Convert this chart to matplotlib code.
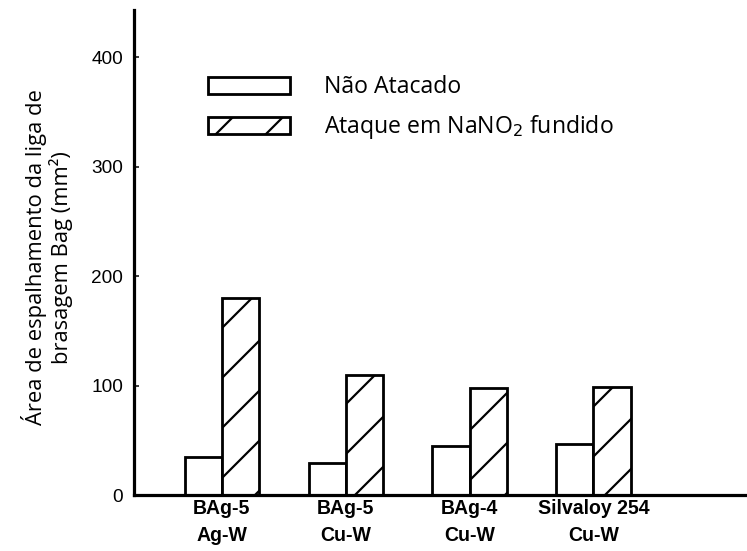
import numpy as np
import matplotlib.pyplot as plt
from matplotlib import font_manager

# dados
categorias = ['BAg-5\nAg-W', 'BAg-5\nCu-W', 'BAg-4\nCu-W', 'Silvaloy 254\nCu-W']
nao_atacado = [35, 29, 45, 47]
ataque_nano2 = [180, 110, 98, 99]
yticks = [0, 100, 200, 300, 400]

# fontes disponíveis
nomes = {f.name for f in font_manager.fontManager.ttflist}
estreita = 'Liberation Sans Narrow' if 'Liberation Sans Narrow' in nomes else 'Liberation Sans'
texto = 'Open Sans' if 'Open Sans' in nomes else 'DejaVu Sans'

# dpi 150 para a hachura ficar espaçada como no original
DPI = 150
P = 72 / DPI  # pontos por pixel

plt.rcParams['hatch.linewidth'] = 2.2 * P

fig = plt.figure(figsize=(747 / DPI, 551 / DPI), dpi=DPI)
ax = fig.add_axes([134 / 747, 1 - 495 / 551, (747 - 134) / 747, (495 - 10) / 551])

x = np.arange(len(categorias))
w = 0.3
ax.bar(x - w / 2, nao_atacado, w, facecolor='white', edgecolor='black',
       linewidth=2.8 * P, label='Não Atacado')
ax.bar(x + w / 2, ataque_nano2, w, facecolor='white', edgecolor='black',
       linewidth=2.8 * P, hatch='/', label='Ataque em NaNO$_2$ fundido')

ax.set_xlim(-0.71, 4.24)
ax.set_ylim(0, 443)

for s in ['top', 'right']:
    ax.spines[s].set_visible(False)
for s in ['left', 'bottom']:
    ax.spines[s].set_linewidth(3.2 * P)

ax.set_yticks(yticks)
ax.tick_params(axis='y', direction='in', length=5 * P, width=1.5 * P,
               pad=11 * P, labelsize=19 * P)
ax.set_yticklabels([str(v) for v in yticks], family=estreita)
ax.set_xticks(x)
ax.set_xticklabels(categorias, family=estreita, fontweight='bold',
                   fontsize=19.5 * P, linespacing=1.55)
ax.tick_params(axis='x', length=0, pad=4 * P)

ax.set_ylabel('Área de espalhamento da liga de\nbrasagem Bag (mm²)',
              family=texto, fontsize=22 * P, linespacing=1.08)
ax.yaxis.set_label_coords(-0.1, 0.49)

ax.legend(loc='upper left', bbox_to_anchor=(0.12, 0.865), frameon=False,
          prop={'family': texto, 'size': 23 * P},
          handlelength=3.6, handleheight=0.75, handletextpad=1.45,
          labelspacing=0.6, borderpad=0, borderaxespad=0)

fig.savefig('out.png', dpi=DPI)
